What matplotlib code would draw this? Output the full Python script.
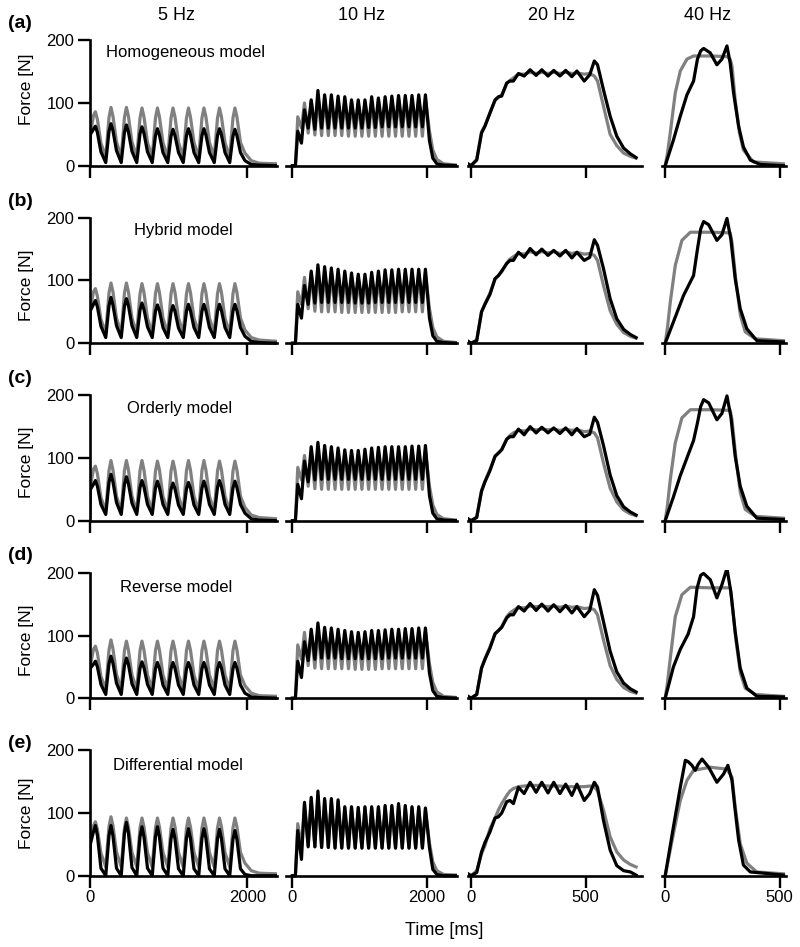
import numpy as np
import matplotlib.pyplot as plt

plt.rcParams['font.family'] = ['Liberation Sans', 'DejaVu Sans']

freq_labels = ['5 Hz', '10 Hz', '20 Hz', '40 Hz']
model_labels = ['Homogeneous model', 'Hybrid model', 'Orderly model',
                'Reverse model', 'Differential model']
panel_labels = ['(a)', '(b)', '(c)', '(d)', '(e)']

# ---- 5 Hz: vertex times (ms) and forces (N), gray = experiment, black = model
t5 = [0, 12, 50, 75, 100, 145,
      206, 247, 272, 297, 342,
      402, 443, 468, 493, 538,
      599, 640, 665, 690, 735,
      795, 836, 861, 886, 931,
      992, 1033, 1058, 1083, 1128,
      1188, 1229, 1254, 1279, 1324,
      1384, 1425, 1450, 1475, 1520,
      1581, 1622, 1647, 1672, 1717,
      1777, 1818, 1843, 1868, 1913,
      1970, 2050, 2150, 2380]
gray5 = [
    [0, 50, 80, 86, 74, 36,
     14, 77, 93, 79, 38, 14, 77, 93, 79, 38, 14, 76, 92, 78, 37,
     14, 76, 92, 78, 37, 14, 76, 92, 78, 37, 14, 76, 92, 78, 37,
     14, 76, 92, 78, 37, 14, 76, 92, 78, 37, 14, 76, 92, 78, 37,
     20, 8, 4, 3],
    [0, 55, 82, 87, 75, 38,
     16, 80, 96, 82, 40, 16, 80, 96, 82, 40, 16, 79, 95, 81, 40,
     16, 79, 95, 81, 40, 16, 79, 95, 81, 40, 16, 79, 95, 81, 40,
     16, 79, 95, 81, 40, 16, 79, 95, 81, 40, 16, 79, 95, 81, 40,
     21, 9, 5, 3],
    [0, 55, 82, 87, 75, 37,
     15, 80, 96, 81, 39, 15, 80, 96, 81, 39, 15, 80, 96, 81, 39,
     15, 79, 95, 81, 39, 15, 79, 95, 81, 39, 15, 80, 96, 81, 39,
     15, 80, 96, 81, 39, 15, 79, 95, 81, 39, 15, 79, 95, 81, 39,
     21, 9, 5, 3],
    [0, 52, 78, 83, 72, 35,
     14, 77, 93, 79, 38, 14, 76, 91, 77, 37, 14, 76, 91, 77, 37,
     14, 76, 91, 77, 37, 14, 76, 91, 77, 37, 14, 76, 91, 77, 37,
     14, 76, 91, 77, 37, 14, 76, 91, 77, 37, 14, 76, 91, 77, 37,
     20, 8, 4, 3],
    [0, 55, 80, 86, 74, 36,
     14, 78, 94, 80, 38, 14, 76, 92, 78, 37, 14, 76, 92, 78, 37,
     14, 76, 92, 78, 37, 14, 76, 92, 78, 37, 14, 76, 92, 78, 37,
     14, 76, 92, 78, 37, 14, 76, 92, 78, 37, 14, 76, 92, 78, 37,
     20, 8, 4, 3],
]
black5 = [
    [0, 50, 58, 63, 53, 22,
     5, 55, 67, 56, 24, 5, 53, 65, 54, 23, 5, 51, 62, 52, 22,
     5, 48, 59, 49, 21, 5, 47, 58, 48, 21, 5, 48, 59, 49, 21,
     5, 48, 59, 49, 21, 5, 48, 59, 49, 21, 5, 47, 58, 48, 21,
     8, 2, 1, 0],
    [0, 52, 62, 68, 58, 27,
     9, 60, 73, 61, 28, 9, 59, 71, 60, 28, 9, 53, 64, 54, 26,
     9, 51, 61, 52, 25, 9, 50, 60, 51, 24, 9, 51, 62, 52, 25,
     9, 51, 62, 52, 25, 9, 51, 62, 52, 25, 9, 51, 62, 52, 25,
     11, 3, 1, 0],
    [0, 50, 58, 64, 55, 26,
     10, 61, 74, 62, 29, 10, 58, 70, 59, 28, 10, 53, 64, 54, 26,
     10, 52, 63, 53, 26, 10, 50, 60, 51, 25, 10, 51, 61, 52, 25,
     10, 52, 63, 53, 26, 10, 53, 64, 54, 26, 10, 52, 63, 53, 26,
     12, 3, 1, 0],
    [0, 48, 54, 59, 50, 22,
     6, 55, 67, 56, 24, 6, 52, 64, 54, 23, 6, 48, 58, 49, 22,
     6, 47, 57, 48, 21, 6, 47, 57, 48, 21, 6, 47, 57, 48, 21,
     6, 47, 57, 48, 21, 6, 47, 57, 48, 21, 6, 47, 57, 48, 21,
     8, 2, 1, 0],
    [0, 51, 70, 80, 64, 12,
     0, 64, 80, 64, 12, 0, 68, 85, 68, 13, 0, 62, 78, 62, 12,
     0, 62, 78, 62, 12, 0, 59, 74, 59, 11, 0, 60, 75, 60, 11,
     0, 60, 75, 60, 11, 0, 59, 74, 59, 11, 0, 58, 72, 58, 11,
     2, 0, 0, 0],
]

# ---- 10 Hz
t10 = [0, 45, 80, 135, 180, 235, 280, 335, 380, 435, 480, 535, 580, 635, 680,
       735, 780, 835, 880, 935, 980, 1035, 1080, 1135, 1180, 1235, 1280, 1335,
       1380, 1435, 1480, 1535, 1580, 1635, 1680, 1735, 1780, 1835, 1880, 1935,
       1980, 2040, 2090, 2150, 2250, 2450]
gray10 = [
    [0, 0, 78, 60, 100, 52, 103, 49, 110, 48, 108, 48, 107, 48, 105, 48, 104, 47,
     102, 47, 101, 47, 101, 47, 104, 47, 104, 47, 105, 47, 106, 47, 107, 47, 107,
     47, 107, 47, 108, 47, 108, 55, 25, 10, 3, 1],
    [0, 0, 82, 62, 105, 55, 110, 51, 116, 50, 114, 50, 113, 50, 111, 49, 109, 49,
     106, 49, 104, 49, 104, 49, 107, 49, 109, 49, 110, 49, 111, 49, 112, 50, 112,
     50, 112, 50, 112, 50, 112, 55, 25, 10, 3, 1],
    [0, 0, 85, 65, 104, 55, 110, 51, 115, 50, 112, 50, 111, 50, 110, 50, 108, 50,
     107, 50, 107, 50, 108, 50, 110, 50, 111, 50, 112, 50, 112, 50, 112, 50, 112,
     50, 113, 50, 113, 50, 113, 55, 25, 10, 3, 1],
    [0, 0, 85, 62, 105, 52, 106, 48, 110, 47, 107, 47, 106, 47, 104, 47, 102, 47,
     101, 46, 100, 46, 101, 46, 103, 46, 103, 47, 104, 47, 105, 47, 105, 47, 106,
     47, 106, 47, 107, 47, 107, 55, 25, 10, 3, 1],
    [0, 0, 83, 45, 112, 48, 120, 46, 128, 45, 120, 45, 120, 44, 118, 44, 108, 44,
     108, 44, 107, 44, 108, 44, 108, 44, 108, 44, 110, 44, 110, 44, 112, 44, 110,
     44, 108, 44, 108, 44, 106, 52, 22, 8, 2, 1],
]
black10 = [
    [0, 0, 55, 36, 89, 60, 105, 58, 120, 60, 113, 60, 113, 60, 111, 60, 110, 60,
     105, 60, 105, 60, 105, 61, 110, 61, 108, 62, 110, 62, 111, 62, 112, 62, 112,
     62, 112, 62, 113, 62, 113, 40, 12, 3, 1, 0],
    [0, 0, 62, 40, 92, 62, 115, 64, 125, 65, 122, 65, 120, 65, 118, 65, 115, 65,
     112, 64, 110, 64, 110, 64, 113, 65, 115, 65, 117, 65, 117, 65, 118, 65, 118,
     65, 118, 65, 118, 65, 118, 40, 12, 3, 1, 0],
    [0, 0, 58, 35, 95, 62, 118, 65, 125, 66, 120, 66, 118, 66, 116, 66, 113, 66,
     112, 66, 112, 66, 114, 66, 116, 66, 117, 66, 118, 66, 118, 66, 118, 66, 118,
     66, 119, 66, 119, 66, 120, 40, 12, 3, 1, 0],
    [0, 0, 59, 33, 90, 60, 110, 62, 120, 64, 113, 64, 112, 64, 110, 63, 108, 63,
     106, 63, 105, 63, 106, 63, 108, 63, 108, 63, 109, 64, 110, 64, 110, 64, 111,
     64, 111, 64, 112, 64, 112, 40, 12, 3, 1, 0],
    [0, 0, 72, 26, 117, 46, 125, 46, 135, 45, 123, 45, 123, 44, 121, 44, 110, 44,
     110, 44, 109, 44, 110, 44, 110, 44, 110, 44, 112, 44, 112, 44, 115, 44, 112,
     44, 110, 44, 110, 44, 108, 45, 10, 2, 0, 0],
]

# ---- 20 Hz
t20 = [-13, 0, 25, 46, 61, 83, 105, 120, 134, 156, 170, 185, 207, 232, 258, 284,
       309, 336, 361, 388, 413, 440, 462, 494, 518, 538, 552, 578, 607, 636, 666,
       695, 720]
gray20 = [
    [3, 0, 10, 54, 64, 85, 104, 109, 113, 131, 136, 140, 146, 146, 149, 147, 149,
     147, 149, 147, 149, 147, 148, 146, 147, 143, 135, 95, 50, 32, 20, 15, 12],
    [3, 0, 5, 50, 63, 80, 102, 108, 114, 128, 134, 138, 143, 142, 146, 144, 146,
     144, 146, 143, 146, 143, 145, 142, 143, 140, 132, 92, 52, 30, 17, 11, 8],
    [3, 0, 6, 48, 63, 82, 102, 108, 114, 130, 136, 140, 144, 143, 146, 145, 146,
     145, 146, 144, 146, 144, 145, 142, 143, 140, 132, 92, 52, 30, 17, 11, 8],
    [3, 0, 6, 48, 63, 82, 102, 108, 114, 130, 136, 140, 145, 144, 147, 146, 147,
     146, 147, 145, 147, 145, 146, 143, 144, 141, 133, 93, 52, 30, 17, 11, 8],
    [3, 0, 8, 35, 48, 75, 92, 105, 115, 128, 135, 139, 142, 143, 144, 144, 144,
     143, 143, 143, 142, 142, 142, 142, 143, 142, 135, 105, 62, 38, 25, 18, 14],
]
black20 = [
    [3, 0, 9, 52, 63, 84, 105, 110, 111, 132, 135, 135, 147, 143, 153, 144, 153,
     143, 152, 143, 152, 142, 151, 135, 145, 167, 161, 121, 79, 47, 28, 19, 13],
    [3, 0, 4, 50, 62, 78, 103, 108, 115, 127, 132, 132, 145, 137, 151, 141, 150,
     140, 148, 139, 148, 136, 145, 132, 137, 165, 156, 119, 71, 39, 22, 14, 9],
    [3, 0, 5, 47, 62, 80, 103, 108, 113, 130, 134, 134, 146, 137, 150, 140, 149,
     140, 148, 139, 148, 137, 147, 134, 138, 165, 157, 120, 73, 40, 22, 14, 9],
    [3, 0, 6, 48, 62, 80, 103, 108, 113, 128, 133, 133, 146, 139, 151, 140, 150,
     139, 149, 138, 148, 136, 146, 130, 140, 173, 164, 122, 75, 42, 24, 15, 10],
    [3, 0, 5, 38, 53, 70, 92, 94, 100, 118, 120, 115, 141, 131, 149, 133, 149,
     132, 149, 131, 146, 128, 146, 120, 131, 149, 141, 88, 41, 16, 8, 6, 1],
]

# ---- 40 Hz (own vertex times per trace)
t40_gray = [
    [0, 10, 22, 44, 66, 95, 124, 200, 270, 284, 292, 306, 325, 342, 386, 517],
    [0, 10, 22, 44, 73, 110, 200, 284, 292, 310, 329, 350, 394, 517],
    [0, 10, 22, 44, 73, 110, 200, 284, 292, 310, 329, 350, 394, 517],
    [0, 10, 22, 44, 73, 110, 200, 284, 292, 310, 329, 350, 394, 517],
    [0, 36, 66, 95, 124, 197, 270, 292, 306, 328, 357, 400, 517],
]
f40_gray = [
    [0, 20, 52, 116, 151, 170, 175, 175, 174, 170, 159, 105, 52, 25, 6, 3],
    [0, 25, 65, 124, 164, 177, 177, 176, 161, 97, 44, 18, 7, 4],
    [0, 25, 65, 124, 164, 177, 177, 176, 161, 97, 44, 18, 7, 4],
    [0, 25, 63, 130, 165, 177, 176, 176, 153, 90, 40, 16, 6, 3],
    [0, 67, 120, 152, 168, 173, 170, 157, 110, 51, 20, 6, 3],
]
t40_black = [
    [0, 36, 66, 95, 124, 141, 155, 168, 197, 226, 248, 270, 284, 299, 321, 342, 372, 415, 517],
    [0, 36, 80, 124, 141, 155, 168, 190, 226, 248, 270, 287, 306, 328, 357, 401, 517],
    [0, 36, 66, 95, 124, 141, 155, 168, 190, 226, 248, 270, 287, 306, 328, 357, 401, 517],
    [0, 36, 66, 100, 124, 139, 155, 168, 197, 226, 248, 270, 287, 306, 328, 357, 401, 517],
    [0, 36, 66, 88, 100, 117, 131, 145, 161, 190, 226, 255, 274, 292, 306, 321, 342, 372, 517],
]
f40_black = [
    [0, 41, 79, 113, 135, 170, 183, 187, 180, 161, 170, 191, 164, 116, 63, 30, 9, 2, 0],
    [0, 34, 76, 108, 150, 182, 194, 189, 164, 173, 199, 166, 103, 55, 23, 4, 2],
    [0, 38, 72, 100, 128, 156, 182, 193, 188, 161, 171, 199, 166, 103, 55, 23, 4, 2],
    [0, 50, 78, 102, 130, 175, 196, 199, 189, 160, 181, 207, 170, 106, 48, 16, 3, 2],
    [0, 78, 141, 184, 182, 176, 168, 178, 186, 173, 149, 162, 176, 152, 104, 57, 17, 6, 1],
]


def traces(r, c):
    if c == 0:
        return t5, gray5[r], t5, black5[r]
    if c == 1:
        return t10, gray10[r], t10, black10[r]
    if c == 2:
        return t20, gray20[r], t20, black20[r]
    return t40_gray[r], f40_gray[r], t40_black[r], f40_black[r]


W, H = 800, 947
fig = plt.figure(figsize=(8, 9.47), dpi=100)

col_px = [(89.5, 277.0), (286.0, 457.0), (468.0, 642.0), (662.0, 785.5)]
col_xlim = [(0, 2376), (-95, 2450), (-13, 746), (-14, 526)]
col_xticks = [[0, 2000], [0, 2000], [0, 500], [0, 500]]
zero_px = [165.7, 343.2, 520.7, 698.2, 875.7]
px_per_n = 0.627
ylo, yhi = -5, 205

for r in range(5):
    for c in range(4):
        x0, x1 = col_px[c]
        top = zero_px[r] - yhi * px_per_n
        bot = zero_px[r] - ylo * px_per_n
        ax = fig.add_axes([x0 / W, 1 - bot / H, (x1 - x0) / W, (bot - top) / H])
        tg, fg, tb, fb = traces(r, c)
        ax.plot(tg, fg, color='#808080', lw=2.3, solid_joinstyle='round')
        ax.plot(tb, fb, color='#000000', lw=2.3, solid_joinstyle='round')
        ax.set_xlim(*col_xlim[c])
        ax.set_ylim(ylo, yhi)
        for s in ['top', 'right']:
            ax.spines[s].set_visible(False)
        ax.spines['bottom'].set_position(('data', 0))
        ax.spines['bottom'].set_linewidth(1.9)
        ax.set_xticks(col_xticks[c])
        ax.tick_params(axis='x', direction='out', length=8.5, width=1.7,
                       labelsize=12, pad=2)
        if r < 4:
            ax.set_xticklabels([])
        if c == 0:
            ax.spines['left'].set_bounds(0, 200)
            ax.spines['left'].set_linewidth(1.9)
            ax.set_yticks([0, 100, 200])
            ax.tick_params(axis='y', direction='out', length=9, width=1.7,
                           labelsize=12, pad=2)
        else:
            ax.spines['left'].set_visible(False)
            ax.set_yticks([])
        ax.patch.set_alpha(0)


def fx(px):
    return px / W


def fy(py):
    return 1 - py / H


title_x = [177, 362, 552, 708]
for lab, x in zip(freq_labels, title_x):
    fig.text(fx(x), fy(15), lab, ha='center', va='center', fontsize=13)

model_xy = [(186, 52), (183, 230), (180, 408), (176, 588), (178, 765)]
for lab, (x, y) in zip(model_labels, model_xy):
    fig.text(fx(x), fy(y), lab, ha='center', va='center', fontsize=12)

letter_y = [24, 201, 378, 555, 743]
for lab, y in zip(panel_labels, letter_y):
    fig.text(fx(20), fy(y), lab, ha='center', va='center', fontsize=14,
             fontweight='bold')

ylab_y = [89, 285, 462, 640, 813]
for y in ylab_y:
    fig.text(fx(27), fy(y), 'Force [N]', ha='center', va='center',
             rotation=90, fontsize=12.5)

fig.text(fx(444), fy(930), 'Time [ms]', ha='center', va='center', fontsize=13)

fig.savefig('out.png', dpi=100)
